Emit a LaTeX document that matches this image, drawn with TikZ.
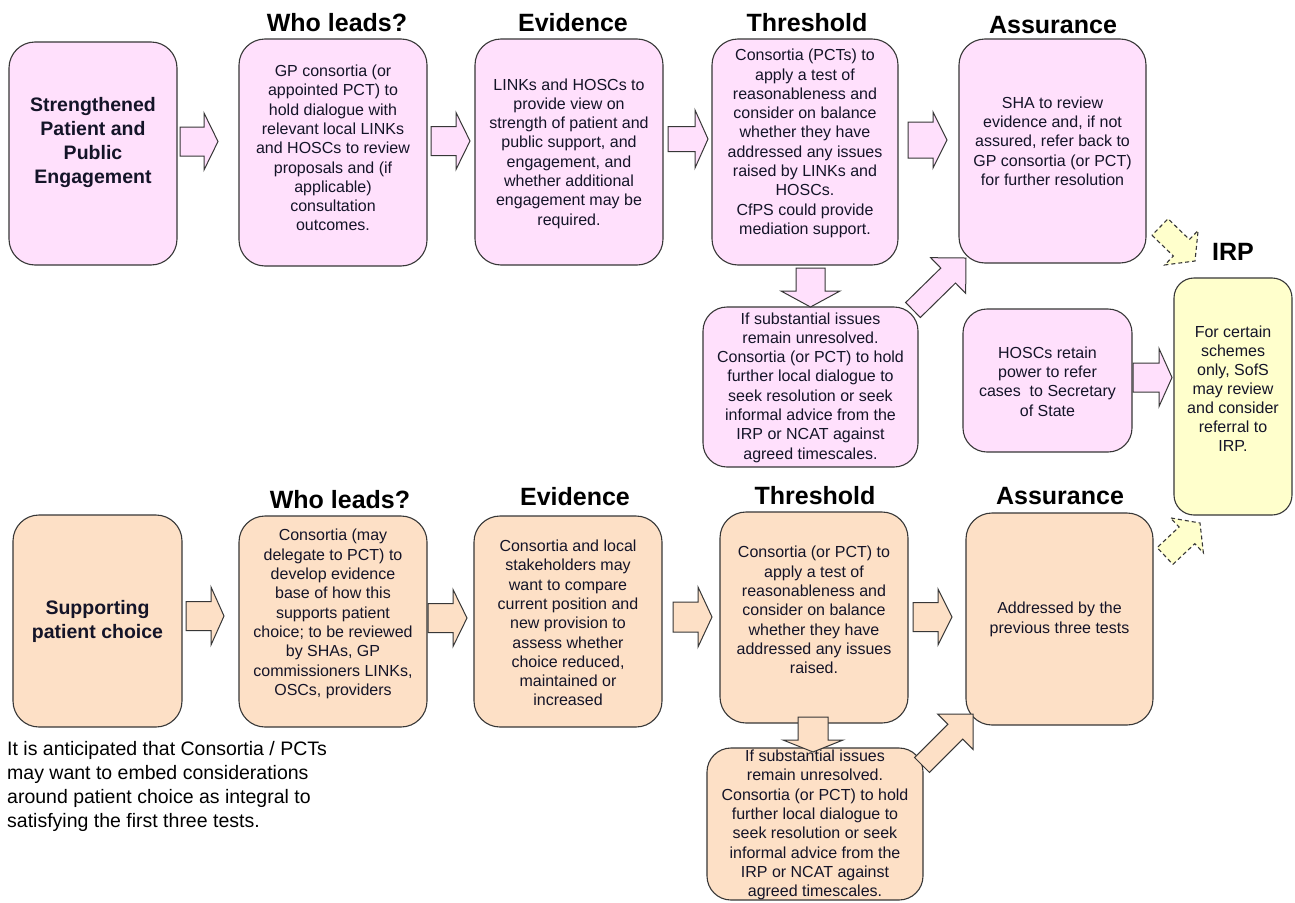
\documentclass[tikz,border=0pt]{standalone}
\usepackage{fontspec}
\setmainfont{Liberation Sans}
\usetikzlibrary{calc}
\definecolor{pinkf}{RGB}{255,224,252}
\definecolor{peachf}{RGB}{253,224,198}
\definecolor{yellf}{RGB}{255,255,204}
\definecolor{edgec}{RGB}{55,55,55}
\definecolor{txtc}{RGB}{20,20,40}
% block arrow: [style]{tail}{tip}{shaft half width}{head half width}{head length}
\newcommand\blockarrow[6][]{%
  \path[#1] let \p1=(#2), \p2=(#3),
      \n1={atan2(\y2-\y1,\x2-\x1)}, \n2={veclen(\x2-\x1,\y2-\y1)} in
    [shift={(\p1)}, rotate=\n1]
    (0,-#4) -- ({\n2-#6},-#4) -- ({\n2-#6},-#5) -- (\n2,0)
    -- ({\n2-#6},#5) -- ({\n2-#6},#4) -- (0,#4) -- cycle;}
\begin{document}
\begin{tikzpicture}[x=1pt,y=1pt,
  boxbase/.style={draw=edgec, line width=1.1pt, rounded corners=26pt, inner sep=0pt},
  pbox/.style={boxbase, fill=pinkf},
  obox/.style={boxbase, fill=peachf},
  ybox/.style={boxbase, fill=yellf, rounded corners=20pt},
  btxt/.style={text=txtc, align=center, inner sep=0pt, font=\fontsize{16}{19.3}\selectfont},
  bigtxt/.style={text=txtc, align=center, inner sep=0pt, font=\fontsize{19.5}{24}\selectfont\bfseries},
  notetxt/.style={text=black, align=left, inner sep=0pt, font=\fontsize{19.5}{24}\selectfont},
  hdr/.style={text=black, inner sep=0pt, font=\fontsize{25}{30}\selectfont\bfseries},
  parrow/.style={draw=edgec, line width=1pt, fill=pinkf},
  oarrow/.style={draw=edgec, line width=1pt, fill=peachf},
  yarrow/.style={draw=edgec, line width=1.1pt, fill=yellf, dash pattern=on 4pt off 3pt}]
\useasboundingbox (0,0) rectangle (1295,-902);
\fill[white] (0,0) rectangle (1295,-902);

% ---------- headers ----------
\node[hdr] (h1) at (337,-23) {Who leads?};
\node[hdr] (h2) at (573,-23) {Evidence};
\node[hdr] (h3) at (807,-23) {Threshold};
\node[hdr] (h4) at (1053,-25) {Assurance};
\node[hdr] (h5) at (1233,-252) {IRP};
\node[hdr] (h6) at (340,-500) {Who leads?};
\node[hdr] (h7) at (575,-497) {Evidence};
\node[hdr] (h8) at (815,-496) {Threshold};
\node[hdr] (h9) at (1060,-496) {Assurance};

% ---------- top row boxes ----------
\node[pbox, minimum width=168pt, minimum height=223pt] (A) at (93,-153.5) {};
\node[pbox, minimum width=188pt, minimum height=227pt] (B) at (333,-152.5) {};
\node[pbox, minimum width=188pt, minimum height=226pt] (C) at (569,-152) {};
\node[pbox, minimum width=186pt, minimum height=226pt] (D) at (805,-152) {};
\node[pbox, minimum width=187pt, minimum height=224pt] (E) at (1052.5,-151) {};
\node[pbox, minimum width=215pt, minimum height=160pt, rounded corners=24pt] (F) at (810.5,-387) {};
\node[pbox, minimum width=169pt, minimum height=143pt, rounded corners=24pt] (G) at (1047.5,-380.5) {};
\node[ybox, minimum width=118pt, minimum height=237pt] (H) at (1233,-396.5) {};

% ---------- bottom row boxes ----------
\node[obox, minimum width=169pt, minimum height=212pt] (A2) at (97.5,-621) {};
\node[obox, minimum width=188pt, minimum height=211pt] (B2) at (333,-621.5) {};
\node[obox, minimum width=188pt, minimum height=211pt] (C2) at (568,-621.5) {};
\node[obox, minimum width=188pt, minimum height=211pt] (D2) at (814,-617.5) {};
\node[obox, minimum width=187pt, minimum height=212pt] (E2) at (1059.5,-619) {};
\node[obox, minimum width=216pt, minimum height=152pt, rounded corners=24pt] (F2) at (815,-824) {};

% ---------- texts ----------
\node[bigtxt] (tA) at (93,-142) {Strengthened\\Patient and\\Public\\Engagement};
\node[btxt] (tB) at (333,-148) {GP consortia (or\\appointed PCT) to\\hold dialogue with\\relevant local LINKs\\and HOSCs to review\\proposals and (if\\applicable)\\consultation\\outcomes.};
\node[btxt] (tC) at (569,-153.5) {LINKs and HOSCs to\\provide view on\\strength of patient and\\public support, and\\engagement, and\\whether additional\\engagement may be\\required.};
\node[btxt] (tD) at (805,-143.5) {Consortia (PCTs) to\\apply a test of\\reasonableness and\\consider on balance\\whether they have\\addressed any issues\\raised by LINKs and\\HOSCs.\\CfPS could provide\\mediation support.};
\node[btxt] (tE) at (1052.5,-141) {SHA to review\\evidence and, if not\\assured, refer back to\\GP consortia (or PCT)\\for further resolution};
\node[btxt] (tF) at (810.5,-387.5) {If substantial issues\\remain unresolved.\\Consortia (or PCT) to hold\\further local dialogue to\\seek resolution or seek\\informal advice from the\\IRP or NCAT against\\agreed timescales.};
\node[btxt] (tG) at (1047.5,-381.5) {HOSCs retain\\power to refer\\cases\ \ to Secretary\\of State};
\node[btxt, font=\fontsize{16}{18.9}\selectfont] (tH) at (1233,-388.5) {For certain\\schemes\\only, SofS\\may review\\and consider\\referral to\\IRP.};

\node[bigtxt] (tA2) at (97.5,-621) {Supporting\\patient choice};
\node[btxt] (tB2) at (333,-614) {Consortia (may\\delegate to PCT) to\\develop evidence\\base of how this\\supports patient\\choice; to be reviewed\\by SHAs, GP\\commissioners LINKs,\\OSCs, providers};
\node[btxt] (tC2) at (568,-623) {Consortia and local\\stakeholders may\\want to compare\\current position and\\new provision to\\assess whether\\choice reduced,\\maintained or\\increased};
\node[btxt] (tD2) at (814,-610) {Consortia (or PCT) to\\apply a test of\\reasonableness and\\consider on balance\\whether they have\\addressed any issues\\raised.};
\node[btxt] (tE2) at (1059.5,-619.5) {Addressed by the\\previous three tests};
\node[btxt] (tF2) at (815,-825) {If substantial issues\\remain unresolved.\\Consortia (or PCT) to hold\\further local dialogue to\\seek resolution or seek\\informal advice from the\\IRP or NCAT against\\agreed timescales.};

\node[notetxt, anchor=west] (note) at (7,-786) {It is anticipated that Consortia / PCTs\\may want to embed considerations\\around patient choice as integral to\\satisfying the first three tests.};

% ---------- arrow end points ----------
\coordinate (a1s) at (180,-141.5);  \coordinate (a1e) at (218,-141.5);
\coordinate (a2s) at (431,-141);    \coordinate (a2e) at (470,-141);
\coordinate (a3s) at (668,-139);    \coordinate (a3e) at (708,-139);
\coordinate (a4s) at (908,-140);    \coordinate (a4e) at (947,-140);
\coordinate (a5s) at (810.5,-268);  \coordinate (a5e) at (810.5,-307);
\coordinate (a6s) at (913,-310);    \coordinate (a6e) at (966,-258);
\coordinate (a7s) at (1133,-377.5); \coordinate (a7e) at (1172,-377.5);
\coordinate (d1s) at (1160,-227);   \coordinate (d1e) at (1195,-261);
\coordinate (d2s) at (1165,-556);   \coordinate (d2e) at (1200,-523);
\coordinate (b1s) at (186,-616);    \coordinate (b1e) at (224,-616);
\coordinate (b2s) at (428,-618);    \coordinate (b2e) at (467,-618);
\coordinate (b3s) at (673,-617);    \coordinate (b3e) at (712,-617);
\coordinate (b4s) at (913,-617);    \coordinate (b4e) at (952,-617);
\coordinate (b5s) at (813,-717);    \coordinate (b5e) at (813,-752);
\coordinate (b6s) at (922,-765);    \coordinate (b6e) at (973,-714);

% ---------- arrows ----------
\blockarrow[parrow]{a1s}{a1e}{14.5}{28.5}{14}
\blockarrow[parrow]{a2s}{a2e}{14.5}{28.5}{14}
\blockarrow[parrow]{a3s}{a3e}{12.5}{29}{13}
\blockarrow[parrow]{a4s}{a4e}{18}{28}{14}
\blockarrow[parrow]{a5s}{a5e}{14.5}{29.5}{16}
\blockarrow[parrow]{a6s}{a6e}{10.5}{25}{25}
\blockarrow[parrow]{a7s}{a7e}{14.5}{29}{13}
\blockarrow[yarrow]{d1s}{d1e}{11.5}{24}{19}
\blockarrow[yarrow]{d2s}{d2e}{11.5}{24}{18}
\blockarrow[oarrow]{b1s}{b1e}{14.5}{29}{13}
\blockarrow[oarrow]{b2s}{b2e}{14.5}{28.5}{14}
\blockarrow[oarrow]{b3s}{b3e}{15}{30}{14}
\blockarrow[oarrow]{b4s}{b4e}{14.5}{28}{14}
\blockarrow[oarrow]{b5s}{b5e}{15}{30}{12}
\blockarrow[oarrow]{b6s}{b6e}{10.5}{25}{25}
\end{tikzpicture}
\end{document}
